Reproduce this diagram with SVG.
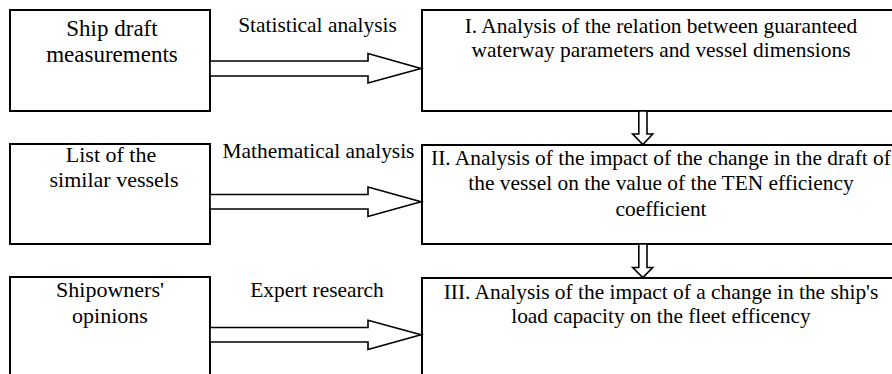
<svg xmlns="http://www.w3.org/2000/svg" width="892" height="374" viewBox="0 0 892 374">
<style>
.box{fill:#fff;stroke:#000;stroke-width:2}
.arr{fill:#fff;stroke:#000;stroke-width:1.6;stroke-linejoin:miter}
text{font-family:"Liberation Serif","Times New Roman","DejaVu Serif",serif;fill:#000;text-anchor:middle}
.l{font-size:22px}
.l1{font-size:23px}
.r{font-size:21.4px}
.lab{font-size:21.4px}
</style>
<rect width="892" height="374" fill="#fff"/>
<g id="src1">
<rect class="box" x="10" y="10" width="200" height="101"/>
<text class="l1" x="112" y="36">Ship draft</text>
<text class="l1" x="112" y="62">measurements</text>
</g>
<g id="src2">
<rect class="box" x="10" y="144" width="200" height="100"/>
<text class="l" x="111" y="161.5">List of the</text>
<text class="l" x="114" y="186.5">similar vessels</text>
</g>
<g id="src3">
<rect class="box" x="10" y="277" width="200" height="130"/>
<text class="l" x="110" y="297">Shipowners'</text>
<text class="l" x="110" y="323">opinions</text>
</g>
<g id="step1">
<rect class="box" x="422" y="10" width="500" height="101"/>
<text class="r" x="661" y="32.5">I. Analysis of the relation between guaranteed</text>
<text class="r" x="661" y="57">waterway parameters and vessel dimensions</text>
</g>
<g id="step2">
<rect class="box" x="422" y="145" width="500" height="99"/>
<text class="r" x="661" y="165">II. Analysis of the impact of the change in the draft of</text>
<text class="r" x="661" y="190">the vessel on the value of the TEN efficiency</text>
<text class="r" x="661" y="215.5">coefficient</text>
</g>
<g id="step3">
<rect class="box" x="422" y="278" width="500" height="130"/>
<text class="r" x="661" y="298.5">III. Analysis of the impact of a change in the ship's</text>
<text class="r" x="661" y="323">load capacity on the fleet efficency</text>
</g>
<g id="connectors">
<polygon class="arr" points="210,61 368,61 368,53.5 421,68.5 368,83 368,76 210,76"/>
<text class="lab" x="317.5" y="31.5">Statistical analysis</text>
<polygon class="arr" points="210,194.5 368,194.5 368,187 421,201.7 368,216.5 368,209 210,209"/>
<text class="lab" x="318.5" y="157.5">Mathematical analysis</text>
<polygon class="arr" points="210,327.5 368,327.5 368,320.3 421,334.7 368,349.5 368,342 210,342"/>
<text class="lab" x="317" y="297">Expert research</text>
<polygon class="arr" points="638.8,111 647,111 647,134 652.7,134 642.8,144.5 632.7,134 638.8,134"/>
<polygon class="arr" points="638.8,244 647,244 647,267.5 652.7,267.5 642.8,277.5 632.7,267.5 638.8,267.5"/>
</g>
</svg>
